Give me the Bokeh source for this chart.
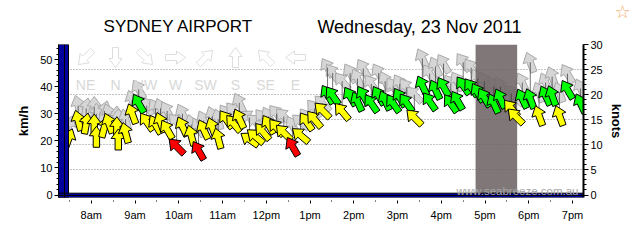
import math
from bokeh.plotting import figure
from bokeh.layouts import column
from bokeh.models import ColumnDataSource, Range1d, LinearAxis, FixedTicker, Label
from bokeh.core.properties import value
from bokeh.embed import file_html
from bokeh.resources import INLINE

# ---------------- data ----------------
station = "SYDNEY AIRPORT"
date_text = "Wednesday, 23 Nov 2011"
watermark = "www.seabreeze.com.au"

times = ["7:29", "7:42", "7:53",
         "8:04", "8:07", "8:18", "8:24", "8:35", "8:37", "8:47", "8:56",
         "9:05", "9:16", "9:28", "9:35", "9:44", "9:57",
         "10:05", "10:17", "10:27", "10:34", "10:46", "10:54",
         "11:05", "11:15", "11:23", "11:37", "11:45", "11:55",
         "12:03", "12:14", "12:24", "12:36", "12:47", "12:55",
         "13:06", "13:17", "13:24", "13:31", "13:44", "13:55",
         "14:05", "14:13", "14:24", "14:34", "14:43", "14:54",
         "15:03", "15:12", "15:23", "15:34", "15:44", "15:52",
         "16:03", "16:13", "16:22", "16:30", "16:41", "16:50", "16:59",
         "17:12", "17:21", "17:36", "17:42", "17:51",
         "18:02", "18:14", "18:23", "18:32", "18:42", "18:53",
         "19:11"]

wind_kmh = [20.8, 27.5, 26.4,
            26.0, 21.5, 25.0, 26.5, 25.0, 20.5, 23.0, 30.0,
            33.8, 27.0, 26.0, 26.8, 24.2, 17.9,
            25.3, 22.0, 16.4, 24.2, 24.9, 20.9,
            27.9, 26.4, 28.2, 20.5, 21.6, 23.4,
            26.0, 24.9, 23.0, 17.9, 22.0, 27.1,
            27.9, 31.2, 37.1, 36.7, 30.8, 36.4,
            34.5, 36.7, 33.8, 36.7, 34.9, 33.8,
            36.0, 34.1, 28.6, 40.4, 34.5, 38.9,
            40.0, 33.8, 34.9, 40.4, 39.7, 37.8, 36.0,
            33.8, 35.6, 32.0, 29.0, 35.6,
            35.6, 29.3, 36.7, 36.7, 29.3, 38.9,
            33.8]

gust_kmh = [25.5, 33.0, 32.0,
            32.5, 30.0, 31.0, 30.0, 29.0, 28.0, 28.0, 35.0,
            39.0, 33.0, 32.0, 32.0, 31.0, 27.0,
            30.0, 26.0, 25.0, 27.5, 29.0, 28.0,
            30.0, 31.0, 34.0, 28.6, 27.0, 28.5,
            29.0, 30.0, 29.0, 25.6, 27.0, 28.6,
            32.0, 33.8, 47.0, 45.0, 42.0, 45.0,
            43.0, 46.7, 41.0, 45.0, 42.0, 40.0,
            41.0, 39.7, 37.0, 50.4, 44.8, 47.4,
            48.5, 41.0, 42.0, 49.0, 47.0, 43.0, 42.0,
            40.0, 40.0, 37.5, 36.0, 41.5,
            49.0, 38.0, 41.5, 43.7, 38.0, 44.8,
            39.3]

dir_from = [200, 165, 190,
            180, 180, 195, 160, 180, 180, 165, 160,
            150, 145, 150, 160, 150, 135,
            155, 165, 150, 155, 160, 165,
            145, 140, 155, 125, 130, 140,
            150, 140, 135, 150, 130, 145,
            140, 135, 150, 145, 140, 150,
            155, 150, 145, 150, 155, 145,
            150, 145, 135, 155, 145, 155,
            150, 145, 150, 145, 145, 150, 150,
            155, 155, 140, 135, 155,
            160, 160, 155, 160, 160, 150,
            155]

hour_ticks = [8, 9, 10, 11, 12, 13, 14, 15, 16, 17, 18, 19]
hour_labels = ["8am", "9am", "10am", "11am", "12pm", "1pm",
               "2pm", "3pm", "4pm", "5pm", "6pm", "7pm"]
kmh_ticks = [0, 10, 20, 30, 40, 50]
knot_ticks = [0, 5, 10, 15, 20, 25, 30]
knot_grid = [5, 10, 15, 20, 25]
compass_labels = ["NE", "N", "NW", "W", "SW", "S", "SE", "E"]
compass_from = [45, 0, 315, 270, 225, 180, 135, 90]
knot_thresholds = [10, 18]          # red below 10 kn, yellow below 18 kn, green above
shade_span = ("16:47", "17:44")

# ---------------- layout constants ----------------
KMH_PER_KNOT = 1.852
W = 642
TOP_H = 39                      # header strip (title texts, star)
H = 243 - TOP_H                 # main chart
LEFT, RIGHT, TOP, BOTTOM = 58, 59, 5, 46
FW, FH = W - LEFT - RIGHT, H - TOP - BOTTOM
X0, X1 = 7.25, 19.25
Y0, Y1 = -0.92, 30 * KMH_PER_KNOT
PPX = FW / (X1 - X0)
PPY = FH / (Y1 - Y0)
FONT = "Liberation Sans"


def hours(s):
    h, m = s.split(":")
    return int(h) + int(m) / 60.0


def sx(px):
    return X0 + (px - LEFT) / PPX


def sy(py):
    # py measured on the whole 243px page
    return Y0 + (TOP_H + TOP + FH - py) / PPY


def arrow(x, y, frm, L=21, hl=9.5, hw=7.2, sw=3.2):
    shape = [(0, L / 2), (hw, L / 2 - hl), (sw, L / 2 - hl), (sw, -L / 2),
             (-sw, -L / 2), (-sw, L / 2 - hl), (-hw, L / 2 - hl)]
    th = math.radians(frm + 180)
    c, s = math.cos(th), math.sin(th)
    xs = [x + (a * c + b * s) / PPX for a, b in shape]
    ys = [y + (-a * s + b * c) / PPY for a, b in shape]
    return xs, ys


def wind_color(kmh):
    kn = kmh / KMH_PER_KNOT
    if kn < knot_thresholds[0]:
        return "#FF0000"
    if kn < knot_thresholds[1]:
        return "#FFFF00"
    return "#00FF00"


t = [hours(s) for s in times]

# ---------------- header strip (page-pixel coordinates) ----------------
top = figure(width=W, height=TOP_H, x_range=Range1d(LEFT, W - RIGHT),
             y_range=Range1d(TOP_H, 0),
             output_backend="svg", toolbar_location=None,
             x_axis_location=None, y_axis_location="right",
             min_border=0, min_border_left=LEFT, min_border_right=RIGHT,
             min_border_top=0, min_border_bottom=0)
top.outline_line_color = None
top.xgrid.visible = False
top.ygrid.visible = False
top.text(x=[178], y=[26], text=[station], text_align="center",
         text_baseline="middle", text_font=value(FONT),
         text_font_size="17px", text_color="black")
top.text(x=[419], y=[26], text=[date_text], text_align="center",
         text_baseline="middle", text_font=value(FONT),
         text_font_size="18px", text_color="black")
# favourite star, drawn as the single label of the strip's right-hand axis
sa = top.yaxis[0]
sa.ticker = FixedTicker(ticks=[11], minor_ticks=[])
sa.major_label_overrides = {11: "\u2606"}
sa.axis_line_color = None
sa.major_tick_line_color = None
sa.minor_tick_line_color = None
sa.major_tick_in = 0
sa.major_tick_out = 0
sa.major_label_standoff = 31
sa.major_label_text_font = "DejaVu Sans"
sa.major_label_text_font_size = "18px"
sa.major_label_text_color = "#F2A65A"

# ---------------- main figure ----------------
p = figure(width=W, height=H, x_range=Range1d(X0, X1), y_range=Range1d(Y0, Y1),
           output_backend="svg", toolbar_location=None,
           min_border_left=LEFT, min_border_right=RIGHT,
           min_border_top=TOP, min_border_bottom=BOTTOM)
p.outline_line_color = None
p.background_fill_color = "white"
p.border_fill_color = "white"
p.xgrid.visible = False
p.ygrid.ticker = FixedTicker(ticks=[k * KMH_PER_KNOT for k in knot_grid])
p.ygrid.grid_line_color = "#8A8A8A"
p.ygrid.grid_line_dash = "1 2"
p.ygrid.grid_line_width = 1

# bottom axis
xa = p.xaxis[0]
xa.ticker = FixedTicker(ticks=hour_ticks,
                        minor_ticks=[h + 0.5 for h in [7] + hour_ticks])
xa.major_label_overrides = dict(zip(hour_ticks, hour_labels))
xa.axis_line_color = None
xa.major_tick_in = -3
xa.major_tick_out = 6
xa.minor_tick_in = -3
xa.minor_tick_out = 4
xa.major_tick_line_color = "black"
xa.minor_tick_line_color = "black"
xa.major_label_standoff = 5
xa.major_label_text_font = FONT
xa.major_label_text_font_size = "11px"
xa.major_label_text_color = "black"

# left axis (km/h)
ya = p.yaxis[0]
ya.ticker = FixedTicker(ticks=kmh_ticks, minor_ticks=list(range(0, 56, 2)))
ya.axis_line_color = "black"
ya.major_tick_in = 0
ya.major_tick_out = 4
ya.minor_tick_in = 0
ya.minor_tick_out = 2
ya.major_label_standoff = 2
ya.major_label_text_font = FONT
ya.major_label_text_font_size = "11px"
ya.major_label_text_color = "black"
ya.axis_label = "km/h"
ya.axis_label_standoff = 6
ya.axis_label_text_font = FONT
ya.axis_label_text_font_style = "bold"
ya.axis_label_text_font_size = "13px"
ya.axis_label_text_color = "black"

# right axis (knots)
p.extra_y_ranges = {"knots": Range1d(Y0 / KMH_PER_KNOT, 30)}
ra = LinearAxis(y_range_name="knots",
                ticker=FixedTicker(ticks=knot_ticks, minor_ticks=list(range(0, 31))))
ra.axis_line_color = "black"
ra.axis_line_width = 2
ra.major_tick_in = 0
ra.major_tick_out = 5
ra.minor_tick_in = 0
ra.minor_tick_out = 3
ra.major_label_standoff = 2
ra.major_label_text_font = FONT
ra.major_label_text_font_size = "11px"
ra.major_label_text_color = "black"
ra.axis_label = "knots"
ra.axis_label_standoff = 3
ra.axis_label_text_font = FONT
ra.axis_label_text_font_style = "bold"
ra.axis_label_text_font_size = "13px"
ra.axis_label_text_color = "black"
p.add_layout(ra, "right")

# gust arrows
gx, gy = [], []
for ti, g, d in zip(t, gust_kmh, dir_from):
    xs, ys = arrow(ti, g, d)
    gx.append(xs)
    gy.append(ys)
p.patches(xs="xs", ys="ys", source=ColumnDataSource(dict(xs=gx, ys=gy)),
          fill_color="#D6D6D6", line_color="#A8A8A8", line_width=1)

# shaded period
p.quad(left=[hours(shade_span[0])], right=[hours(shade_span[1])],
       bottom=[Y0], top=[Y1], fill_color="#6E6565", fill_alpha=0.88,
       line_color=None)

# links between mean and gust
p.segment(x0=t, y0=wind_kmh, x1=t, y1=gust_kmh, line_color="#333333",
          line_width=0.7)

# mean wind arrows
wx, wy, wc = [], [], []
for ti, v, d in zip(t, wind_kmh, dir_from):
    xs, ys = arrow(ti, v, d)
    wx.append(xs)
    wy.append(ys)
    wc.append(wind_color(v))
p.patches(xs="xs", ys="ys", fill_color="fc",
          source=ColumnDataSource(dict(xs=wx, ys=wy, fc=wc)),
          line_color="black", line_width=1)

# blue 3D axis bars
BLUE = "#00009C"
p.quad(left=[X0], right=[sx(68)], bottom=[Y0], top=[Y1],
       fill_color=BLUE, line_color="black", line_width=1)
p.quad(left=[X0], right=[X1], bottom=[Y0], top=[sy(192.7)],
       fill_color=BLUE, line_color="black", line_width=1)
p.segment(x0=[sx(64)], y0=[Y0], x1=[sx(64)], y1=[Y1], line_color="black", line_width=1)
p.segment(x0=[X0], y0=[sy(195)], x1=[X1], y1=[sy(195)], line_color="black", line_width=1)

# compass legend
lx, ly = [], []
for k, d in enumerate(compass_from):
    cx = sx(85 + 30 * k)
    xs, ys = arrow(cx, sy(57), d, L=20, hl=9, hw=6.5, sw=3)
    lx.append(xs)
    ly.append(ys)
    p.add_layout(Label(x=cx, y=sy(84), text=compass_labels[k], text_align="center",
                       text_baseline="alphabetic", text_font=FONT,
                       text_font_size="14px", text_color="#D8D8D8"))
p.patches(xs="xs", ys="ys", source=ColumnDataSource(dict(xs=lx, ys=ly)),
          fill_color=None, line_color="#DDDDDD", line_width=1)

# watermark
p.add_layout(Label(x=sx(578), y=sy(190), text=watermark, text_align="right",
                   text_baseline="alphabetic", text_font=FONT,
                   text_font_size="11.5px", text_color="#A6A6A6"))

open("out.html", "w").write(file_html(column(top, p, spacing=0), INLINE))
